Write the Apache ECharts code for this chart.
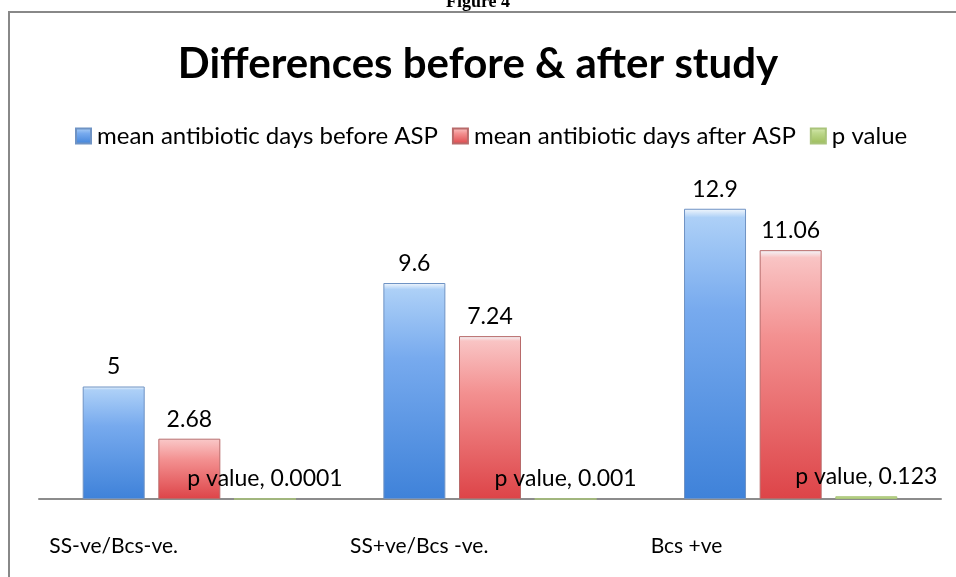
<!DOCTYPE html>
<html>
<head>
<meta charset="utf-8">
<script src="https://cdn.jsdelivr.net/npm/echarts@6/dist/echarts.min.js"></script>
<style>
  html, body { margin: 0; padding: 0; background: #fff; }
  #chart { width: 956px; height: 577px; }
</style>
</head>
<body>
<div id="chart"></div>
<script>
  var categories = ['SS-ve/Bcs-ve.', 'SS+ve/Bcs -ve.', 'Bcs +ve']
  var beforeDays = [5, 9.6, 12.9]
  var afterDays = [2.68, 7.24, 11.06]
  var pValues = [0.0001, 0.001, 0.123]
  var seriesNames = ['mean antibiotic days before ASP', 'mean antibiotic days after ASP', 'p value']

  var font = 'Lato'

  // vertical gradient to mimic the glassy office bars
  function fill (top, mid, bottom) {
    return new echarts.graphic.LinearGradient(0, 0, 0, 1, [
      { offset: 0, color: '#f4f8fc' },
      { offset: 0.03, color: top },
      { offset: 0.35, color: mid },
      { offset: 1, color: bottom }
    ])
  }

  function valueLabel (fmt) {
    return {
      show: true,
      position: 'top',
      distance: 8,
      formatter: fmt,
      fontFamily: font,
      fontSize: 23,
      color: '#000'
    }
  }

  var myChart = echarts.init(document.getElementById('chart'))
  myChart.setOption({
    animation: false,
    backgroundColor: '#fff',
    title: [
      {
        text: 'Figure 4',
        left: 'center',
        top: -12,
        textStyle: { fontFamily: 'Liberation Serif', fontWeight: 'bold', fontSize: 18, color: '#000' }
      },
      {
        text: 'Differences before & after study',
        left: 'center',
        top: 38,
        textStyle: { fontFamily: font, fontWeight: 'bold', fontSize: 42, color: '#000' }
      }
    ],
    graphic: [
      {
        type: 'rect',
        shape: { x: 9, y: 12, width: 960, height: 580 },
        style: { fill: 'none', stroke: '#888', lineWidth: 2 },
        z: -1
      }
    ],
    legend: {
      top: 119,
      left: 70,
      itemWidth: 15,
      itemHeight: 15,
      itemGap: 14,
      icon: 'rect',
      textStyle: { fontFamily: font, fontSize: 24, color: '#000', padding: [0, 0, 0, 1] },
      data: seriesNames
    },
    grid: {
      left: 39,
      right: 15,
      top: 184,
      bottom: 78
    },
    xAxis: {
      type: 'category',
      data: categories,
      axisTick: { show: false },
      axisLine: { lineStyle: { color: '#8c8c8c', width: 2 } },
      axisLabel: {
        margin: 37,
        formatter: function (v) { return '{a|' + v + '}' },
        rich: {
          a: { width: 280, align: 'left', fontFamily: font, fontSize: 21, color: '#000' }
        }
      }
    },
    yAxis: {
      type: 'value',
      min: 0,
      max: 14,
      show: false,
      splitLine: { show: false }
    },
    series: [
      {
        name: seriesNames[0],
        type: 'bar',
        barWidth: 62,
        barGap: '22%',
        data: beforeDays,
        itemStyle: {
          color: fill('#add0f7', '#77aaee', '#3f82d9'),
          borderColor: '#6f93c4',
          borderWidth: 1
        },
        label: valueLabel('{c}')
      },
      {
        name: seriesNames[1],
        type: 'bar',
        barWidth: 62,
        barGap: '22%',
        data: afterDays,
        itemStyle: {
          color: fill('#f9c4c4', '#f39090', '#dd4448'),
          borderColor: '#b86a6a',
          borderWidth: 1
        },
        label: valueLabel('{c}')
      },
      {
        name: seriesNames[2],
        type: 'bar',
        barWidth: 62,
        barGap: '22%',
        data: pValues,
        itemStyle: {
          color: fill('#d6e8b0', '#bcd78a', '#9bbb59'),
          borderColor: '#a9c47a',
          borderWidth: 1
        },
        label: valueLabel('{a}, {c}')
      }
    ]
  })
</script>
</body>
</html>
